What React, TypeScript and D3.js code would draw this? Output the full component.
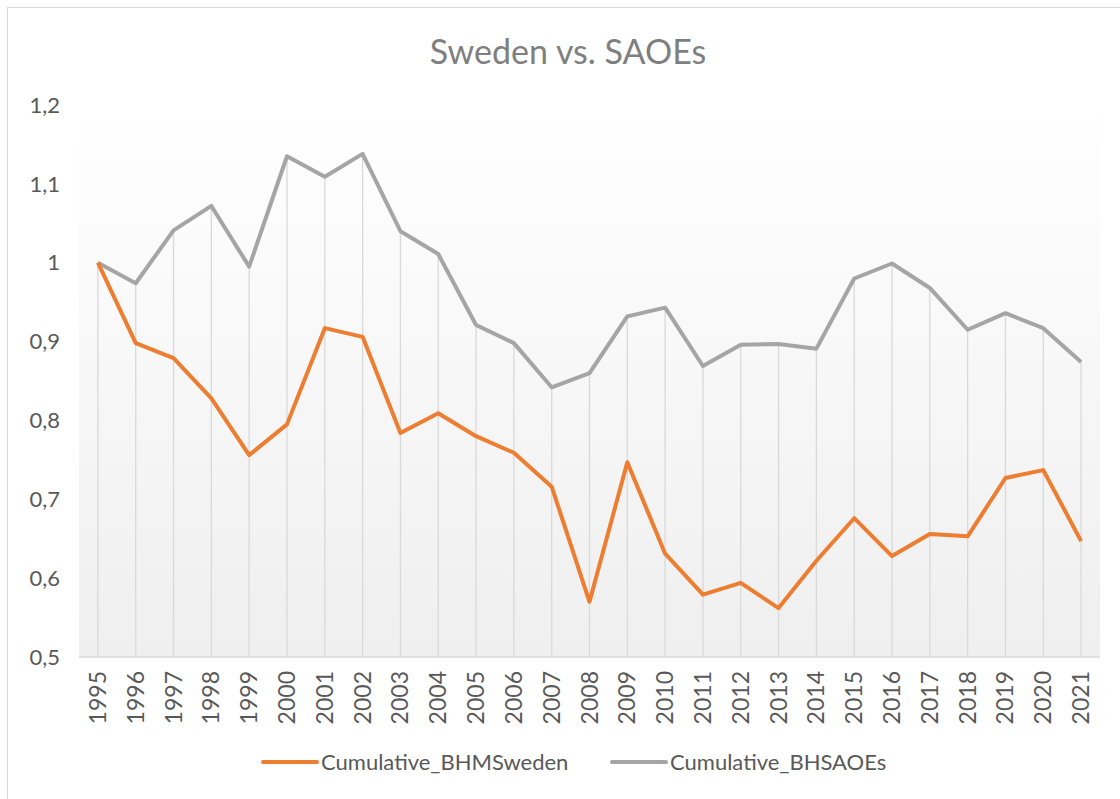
import React, { useEffect, useRef } from 'react';
import * as d3 from 'd3';

const years = [1995, 1996, 1997, 1998, 1999, 2000, 2001, 2002, 2003, 2004, 2005, 2006, 2007, 2008,
    2009, 2010, 2011, 2012, 2013, 2014, 2015, 2016, 2017, 2018, 2019, 2020, 2021];

const sweden = [1.0, 0.898, 0.879, 0.828, 0.756, 0.795, 0.917, 0.906, 0.784, 0.809, 0.780, 0.759, 0.716, 0.570,
    0.747, 0.631, 0.579, 0.594, 0.562, 0.622, 0.676, 0.628, 0.656, 0.653, 0.727, 0.737, 0.647];

const saoes = [1.0, 0.974, 1.041, 1.072, 0.995, 1.135, 1.109, 1.138, 1.040, 1.011, 0.921, 0.898, 0.842, 0.860,
    0.932, 0.943, 0.869, 0.896, 0.897, 0.891, 0.980, 0.999, 0.968, 0.915, 0.936, 0.917, 0.874];

const yTicks = [0.5, 0.6, 0.7, 0.8, 0.9, 1.0, 1.1, 1.2];

const seriesNames = ["Cumulative_BHMSweden", "Cumulative_BHSAOEs"];
const seriesColors = ["#ED7D31", "#A5A5A5"];

const App = () => {
    const wrapper = useRef(null);
    const width = 1120, height = 799;
    const margin = { top: 105, bottom: 142, left: 79, right: 20 };
    const font = "Lato, 'Open Sans', sans-serif";

    useEffect(() => {
        d3.select(wrapper.current).selectAll("svg").remove();

        const svg = d3.select(wrapper.current)
            .append("svg")
            .attr("width", width)
            .attr("height", height)
            .style("position", "absolute")
            .style("left", 0)
            .style("top", 0)
            .style("background", "#fff");

        const x = d3.scaleBand<number>()
            .domain(years)
            .range([margin.left, width - margin.right])
            .padding(0);
        const cx = (yr: number) => (x(yr) as number) + x.bandwidth() / 2;

        const y = d3.scaleLinear()
            .domain([0.5, 1.2])
            .range([height - margin.bottom, margin.top]);

        // outer chart border
        svg.append("rect")
            .attr("x", 7.5).attr("y", 7.5)
            .attr("width", width).attr("height", height)
            .attr("fill", "none")
            .attr("stroke", "#d9d9d9");

        const defs = svg.append("defs");
        const grad = defs.append("linearGradient")
            .attr("id", "plotbg")
            .attr("x1", 0).attr("y1", 0).attr("x2", 0).attr("y2", 1);
        grad.append("stop").attr("offset", "0%").attr("stop-color", "#ffffff");
        grad.append("stop").attr("offset", "100%").attr("stop-color", "#efefef");

        svg.append("rect")
            .attr("x", margin.left)
            .attr("y", y(1.2))
            .attr("width", width - margin.right - margin.left)
            .attr("height", y(0.5) - y(1.2))
            .attr("fill", "url(#plotbg)");

        // title
        svg.append("text")
            .attr("x", 568)
            .attr("y", 64)
            .attr("text-anchor", "middle")
            .style("font-family", font)
            .style("font-size", "34px")
            .attr("fill", "#7f7f7f")
            .text("Sweden vs. SAOEs");

        // drop lines
        svg.append("g")
            .selectAll("line")
            .data(years)
            .join("line")
            .attr("x1", d => cx(d))
            .attr("x2", d => cx(d))
            .attr("y1", (d, i) => y(Math.max(sweden[i], saoes[i])))
            .attr("y2", y(0.5))
            .attr("stroke", "#d9d9d9")
            .attr("stroke-width", 1.3);

        // x axis line
        svg.append("line")
            .attr("x1", margin.left).attr("x2", width - margin.right)
            .attr("y1", y(0.5)).attr("y2", y(0.5))
            .attr("stroke", "#d9d9d9")
            .attr("stroke-width", 1.5);

        // y labels
        svg.append("g")
            .selectAll("text")
            .data(yTicks)
            .join("text")
            .attr("x", 60)
            .attr("y", d => y(d))
            .attr("dy", "0.35em")
            .attr("text-anchor", "end")
            .style("font-family", font)
            .style("font-size", "22px")
            .attr("fill", "#595959")
            .text(d => d3.format("~g")(d).replace(".", ","));

        // x labels
        svg.append("g")
            .selectAll("text")
            .data(years)
            .join("text")
            .attr("transform", d => `translate(${cx(d) + 8},${y(0.5) + 14}) rotate(-90)`)
            .attr("text-anchor", "end")
            .style("font-family", font)
            .style("font-size", "23px")
            .attr("fill", "#595959")
            .text(d => d);

        const line = d3.line<number>()
            .x((d, i) => cx(years[i]))
            .y(d => y(d));

        [saoes, sweden].forEach((vals, k) => {
            svg.append("path")
                .datum(vals)
                .attr("fill", "none")
                .attr("stroke", k === 0 ? seriesColors[1] : seriesColors[0])
                .attr("stroke-width", 4)
                .attr("stroke-linejoin", "round")
                .attr("d", line);
        });

        // legend
        const legendX = [263, 612];
        const legend = svg.append("g")
            .selectAll("g")
            .data(seriesNames)
            .join("g")
            .attr("transform", (d, i) => `translate(${legendX[i]},762)`);
        legend.append("line")
            .attr("x1", 0).attr("x2", 54)
            .attr("stroke", (d, i) => seriesColors[i])
            .attr("stroke-width", 4)
            .attr("stroke-linecap", "round");
        legend.append("text")
            .attr("x", 58)
            .attr("dy", "0.35em")
            .style("font-family", font)
            .style("font-size", "22px")
            .attr("fill", "#595959")
            .text(d => d);
    }, []);

    return (
        <div className={"line-chart"} ref={wrapper}>
        </div>
    );
};

export { App as default };
